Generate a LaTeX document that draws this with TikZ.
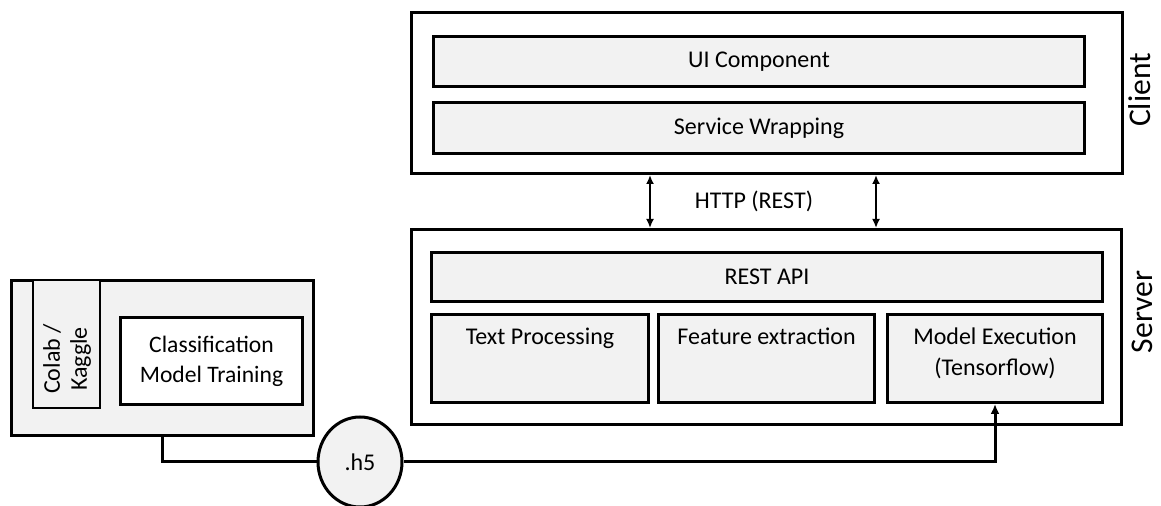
\documentclass[tikz,border=0pt]{standalone}
\usepackage{fontspec}
\setmainfont{Carlito}
\usetikzlibrary{arrows.meta,positioning,shapes.geometric}
\definecolor{boxgray}{RGB}{242,242,242}

\begin{document}
\begin{tikzpicture}[
      x=0.5pt, y=-0.5pt,
      node distance=7.3pt,
      frame/.style={draw, line width=1.5pt, anchor=north west, inner sep=0pt},
      layer/.style={draw, line width=1.5pt, fill=boxgray, anchor=north west,
                    inner sep=0pt, font=\fontsize{12}{15.5}\selectfont},
      caption/.style={font=\fontsize{12}{15.5}\selectfont, align=center, inner sep=0pt},
      side/.style={rotate=90, font=\fontsize{15.8}{18}\selectfont, inner sep=0pt},
      link/.style={line width=1.5pt},
      arrow/.style={{Latex[length=4.5pt,width=4pt]}-{Latex[length=4.5pt,width=4pt]}, line width=1.2pt}
    ]
    \useasboundingbox (0,0) rectangle (1161,506);
    % client side
    \node[frame, minimum width=355.5pt, minimum height=80.5pt] (client) at (410,11) {};
    \node[layer, minimum width=325.5pt, minimum height=25pt] (ui) at (432,35) {UI Component};
    \node[layer, minimum width=325.5pt, minimum height=25.5pt] (wrap) at (432,101) {Service Wrapping};
    \node[side] (clientlbl) at (1140,90) {Client};
    % server side
    \node[frame, minimum width=355pt, minimum height=97.5pt] (server) at (410,228) {};
    \node[layer, minimum width=335.5pt, minimum height=24.5pt] (restapi) at (430,251) {REST API};
    \node[layer, minimum width=108.5pt, minimum height=44pt] (textproc) at (430,313) {};
    \node[layer, minimum width=108pt, minimum height=44pt] (feature) at (657,313) {};
    \node[layer, minimum width=107.5pt, minimum height=44pt] (modelexec) at (886,313) {};
    \node[caption, below=of textproc.north] (textproclbl) {Text Processing};
    \node[caption, below=of feature.north] (featurelbl) {Feature extraction};
    \node[caption, below=of modelexec.north] (modelexeclbl) {Model Execution\\(Tensorflow)};
    \node[side] (serverlbl) at (1142,312) {Server};
    % http link
    \draw[arrow] (client.south -| textproc.east) -- (server.north -| textproc.east);
    \draw[arrow] (client.south -| feature.east) -- (server.north -| feature.east);
    \node[caption] (http) at (754,201) {HTTP (REST)};
    % training
    \node[layer, minimum width=151pt, minimum height=77.5pt] (training) at (10,279) {};
    \node[layer, line width=1pt, minimum width=33.5pt, minimum height=64pt] (colab) at (32,279) {};
    \node[caption, rotate=90, font=\fontsize{12}{13.5}\selectfont] (colablbl) at (67,359) {Colab /\\Kaggle};
    \node[frame, fill=white, minimum width=91pt, minimum height=43.5pt, align=center,
          font=\fontsize{11.8}{15}\selectfont] (classif) at (119,316) {Classification\\Model Training};
    \node[draw, ellipse, line width=1.5pt, fill=boxgray, inner sep=0pt,
          minimum width=42pt, minimum height=45pt, font=\fontsize{12}{14}\selectfont] (h5) at (360,462) {.h5};
    \draw[link] (training.south) |- (h5.west);
    \draw[link, -{Latex[length=5pt,width=4.5pt]}] (h5.east) -| (modelexec.south);
  \end{tikzpicture}
\end{document}
